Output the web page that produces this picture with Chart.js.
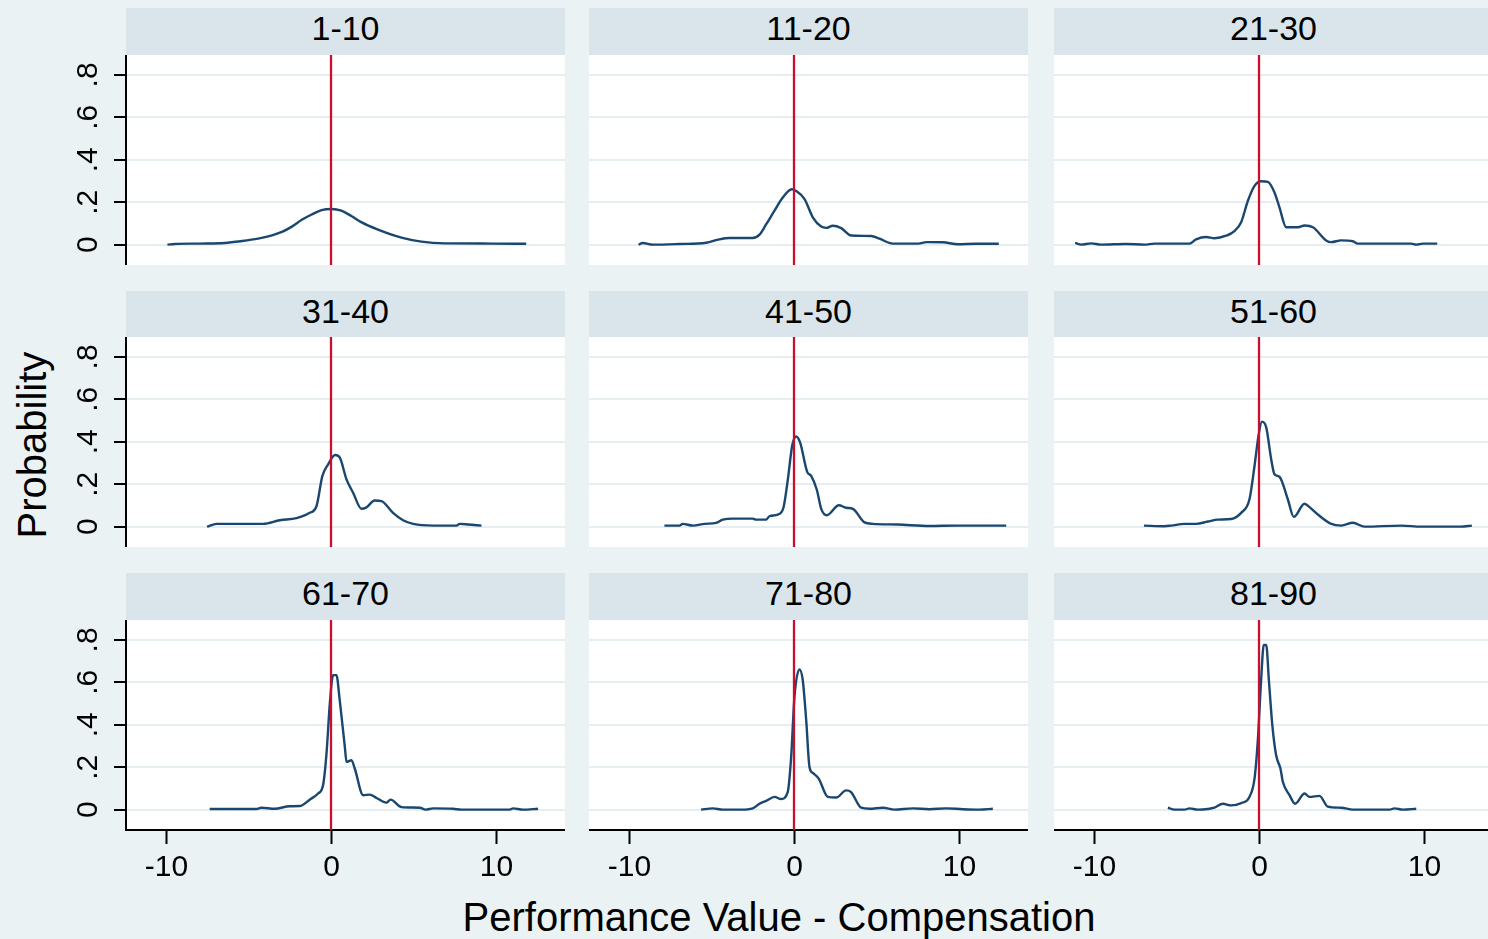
<!DOCTYPE html>
<html><head><meta charset="utf-8">
<script src="https://cdn.jsdelivr.net/npm/chart.js@4.4.1/dist/chart.umd.min.js"></script>
<style>
html,body{margin:0;padding:0;width:1488px;height:939px;overflow:hidden;background:#eaf2f3;font-family:"Liberation Sans",Arial,sans-serif;}
.hdr{position:absolute;background:#d9e5ea;color:#000;font-size:34px;text-align:center;line-height:40px;}
canvas{position:absolute;}
.t{position:absolute;color:#000;font-size:40px;white-space:nowrap;text-align:center;}
</style></head><body>
<div class="t" id="xt" style="left:379px;top:897px;width:800px;line-height:40px;">Performance Value - Compensation</div>
<div class="t" id="yt" style="left:-118px;top:423px;width:300px;height:44px;line-height:44px;transform:rotate(-90deg);transform-origin:150px 22px;">Probability</div>
<script>
// ---- data ----
const groups = ["1-10","11-20","21-30","31-40","41-50","51-60","61-70","71-80","81-90"];

const g1x = [-9.94,-9.5,-8.0,-6.47,-5.5,-4.45,-3.6,-3.0,-2.4,-1.8,-1.2,-0.6,0,0.6,1.2,1.8,2.82,4.24,5.45,6.87,9.7,11.8];
const g1y = [0,0.003,0.005,0.008,0.016,0.028,0.044,0.06,0.085,0.117,0.142,0.163,0.168,0.16,0.135,0.106,0.071,0.033,0.014,0.006,0.005,0.004];

const g2x = [-9.45,-9.19,-8.59,-6.97,-5.35,-4.55,-3.94,-2.53,-2.12,-1.72,-1.21,-0.71,-0.16,0.1,0.61,1.11,1.62,1.92,2.32,2.83,3.44,4.65,5.15,5.96,7.5,8.0,8.99,9.9,11.01,12.38];
const g2y = [0,0.008,0,0.003,0.009,0.025,0.031,0.031,0.047,0.095,0.16,0.222,0.261,0.253,0.215,0.129,0.085,0.079,0.089,0.078,0.043,0.041,0.028,0.005,0.005,0.012,0.011,0.002,0.004,0.004];

const g3x = [-11.17,-10.8,-10.2,-9.6,-8.08,-6.97,-6.36,-4.24,-3.84,-3.23,-2.73,-2.02,-1.52,-1.11,-0.7,-0.3,0.1,0.51,0.91,1.21,1.62,2.33,2.73,3.24,4.04,4.35,4.95,5.66,5.96,9.19,9.5,9.9,10.77];
const g3y = [0.008,0,0.006,0,0.003,0,0.005,0.005,0.025,0.036,0.03,0.042,0.064,0.106,0.207,0.277,0.299,0.296,0.246,0.176,0.082,0.082,0.09,0.082,0.02,0.012,0.02,0.016,0.005,0.005,0,0.005,0.005];

const g4x = [-7.54,-6.97,-4.14,-3.13,-2.12,-1.32,-0.91,-0.55,-0.2,0.22,0.5,0.91,1.31,1.82,2.12,2.62,3.03,3.73,4.34,4.95,6.16,7.57,7.77,8.3,9.09];
const g4y = [0,0.013,0.013,0.03,0.04,0.065,0.096,0.239,0.294,0.338,0.326,0.223,0.16,0.084,0.091,0.123,0.12,0.065,0.03,0.013,0.005,0.005,0.013,0.01,0.005];

const g5x = [-7.88,-6.97,-6.77,-6.16,-5.45,-4.75,-4.34,-3.74,-2.53,-2.33,-1.72,-1.52,-1.01,-0.67,-0.4,-0.14,0.1,0.34,0.77,1.01,1.35,1.62,1.96,2.69,3.13,3.54,4.24,4.75,6.26,8.18,9.8,12.83];
const g5y = [0.005,0.005,0.013,0.005,0.013,0.018,0.033,0.038,0.038,0.033,0.033,0.049,0.057,0.089,0.223,0.381,0.425,0.397,0.258,0.239,0.175,0.084,0.054,0.101,0.089,0.084,0.02,0.013,0.01,0.003,0.005,0.005];

const g6x = [-7.0,-5.76,-5.35,-4.55,-3.84,-3.13,-2.52,-1.72,-1.11,-0.61,-0.3,-0.06,0.15,0.41,0.71,0.91,1.21,1.72,2.08,2.73,3.03,3.54,4.35,4.95,5.66,6.36,8.59,9.8,12.2,12.87];
const g6y = [0.005,0.002,0.005,0.013,0.013,0.024,0.033,0.036,0.065,0.128,0.286,0.428,0.495,0.468,0.318,0.247,0.235,0.128,0.046,0.108,0.092,0.057,0.013,0.005,0.018,0,0.005,0,0,0.005];

const g7x = [-7.38,-4.55,-4.24,-3.44,-2.53,-1.92,-1.32,-0.81,-0.51,-0.3,-0.1,0.1,0.3,0.5,0.81,0.91,1.21,1.41,1.92,2.32,2.73,3.33,3.58,4.24,5.35,5.7,6.16,7.37,7.88,10.8,11.0,11.6,12.52];
const g7y = [0.003,0.003,0.009,0.004,0.016,0.017,0.047,0.076,0.115,0.265,0.5,0.634,0.634,0.516,0.296,0.225,0.233,0.194,0.068,0.071,0.055,0.033,0.047,0.012,0.009,0,0.006,0.004,0,0,0.006,0,0.004];

const g8x = [-5.66,-4.95,-4.34,-3.23,-2.53,-2.12,-1.72,-1.21,-0.81,-0.41,-0.2,0,0.3,0.5,0.71,0.91,1.11,1.47,2.02,2.53,3.13,3.43,4.04,4.55,5.35,6.06,7.17,8.18,9.19,10.2,11.21,12.02];
const g8y = [0,0.006,0,0,0.006,0.028,0.041,0.06,0.05,0.083,0.249,0.532,0.661,0.611,0.422,0.201,0.173,0.146,0.06,0.057,0.091,0.083,0.009,0.004,0.009,0,0.006,0.002,0.006,0.002,0,0.004];

const g9x = [-5.55,-5.15,-4.55,-4.24,-3.74,-3.13,-2.73,-2.22,-1.72,-1.11,-0.61,-0.3,-0.1,0.1,0.26,0.41,0.57,0.77,1.01,1.27,1.42,1.82,2.16,2.73,3.03,3.64,4.14,4.95,5.66,7.88,8.18,8.69,9.5];
const g9y = [0.009,0,0,0.006,0,0.003,0.009,0.028,0.02,0.031,0.06,0.146,0.327,0.611,0.776,0.776,0.611,0.406,0.256,0.194,0.13,0.068,0.028,0.076,0.06,0.065,0.014,0.009,0,0,0.006,0,0.004];

const yTicks = [0, 0.2, 0.4, 0.6, 0.8];
const yTickLabels = ["0", ".2", ".4", ".6", ".8"];
const xTicks = [-10, 0, 10];
const xTickLabels = ["-10", "0", "10"];
const refX = 0;
const xRange = [-12.45, 14.15];
const yRange = [-0.096, 0.894];

// ---- layout ----
const colLeft = [126, 589, 1054], colW = [439, 439, 439];
const rowTop = [55, 337, 620], hdrTop = [8, 291, 573], plotH = 210;
const FONT = '"Liberation Sans", Arial, sans-serif';
const series = [[g1x,g1y],[g2x,g2y],[g3x,g3y],[g4x,g4y],[g5x,g5y],[g6x,g6y],[g7x,g7y],[g8x,g8y],[g9x,g9y]];

const bgPlugin = {id:'bg', beforeDraw(ch){const a=ch.chartArea,ctx=ch.ctx;ctx.save();ctx.fillStyle='#ffffff';ctx.fillRect(a.left,a.top,a.right-a.left,a.bottom-a.top);ctx.restore();}};
const refPlugin = {id:'ref', afterDatasetsDraw(ch){const a=ch.chartArea,ctx=ch.ctx;const px=Math.round(ch.scales.x.getPixelForValue(refX));ctx.save();ctx.strokeStyle='#c8102e';ctx.lineWidth=2.3;ctx.beginPath();ctx.moveTo(px,a.top);ctx.lineTo(px,a.bottom);ctx.stroke();ctx.restore();}};

for (let i = 0; i < 9; i++) {
  const r = Math.floor(i/3), c = i % 3;
  const lx = c === 0 ? 70 : 0, bx = r === 2 ? 62 : 0;
  const hd = document.createElement('div');
  hd.className = 'hdr';
  hd.style.left = colLeft[c] + 'px'; hd.style.top = hdrTop[r] + 'px';
  hd.style.width = colW[c] + 'px'; hd.style.height = (rowTop[r] - hdrTop[r]) + 'px';
  hd.textContent = groups[i];
  document.body.appendChild(hd);

  const cv = document.createElement('canvas');
  const W = colW[c] + lx, H = plotH + bx;
  cv.width = W; cv.height = H;
  cv.style.left = (colLeft[c] - lx) + 'px'; cv.style.top = rowTop[r] + 'px';
  cv.style.width = W + 'px'; cv.style.height = H + 'px';
  document.body.appendChild(cv);

  const xs = series[i][0], ys = series[i][1];
  new Chart(cv, {
    type: 'line',
    data: { datasets: [{ data: xs.map((x,k)=>({x:x, y:ys[k]})), borderColor:'#1a476f', borderWidth:2.4, pointRadius:0, cubicInterpolationMode:'monotone', fill:false }] },
    options: {
      responsive:false, animation:false, devicePixelRatio:1, events:[],
      layout:{padding:0},
      plugins:{legend:{display:false}, tooltip:{enabled:false}},
      scales:{
        x:{ type:'linear', min:xRange[0], max:xRange[1],
            afterBuildTicks:s=>{s.ticks = xTicks.map(v=>({value:v}));},
            afterFit:s=>{s.height = bx; s.paddingLeft = 0; s.paddingRight = 0;},
            grid:{display:r===2, drawOnChartArea:false, drawTicks:true, tickLength:14, tickColor:'#000', tickWidth:2},
            border:{display:r===2, color:'#000', width:2},
            ticks:{display:r===2, padding:6, color:'#000', font:{family:FONT, size:30}, minRotation:0, maxRotation:0, autoSkip:false,
                   callback:(v,idx)=>xTickLabels[idx]} },
        y:{ type:'linear', min:yRange[0], max:yRange[1],
            afterBuildTicks:s=>{s.ticks = yTicks.map(v=>({value:v}));},
            afterFit:s=>{s.width = lx; s.paddingTop = 0; s.paddingBottom = 0;},
            grid:{color:'#e6eef1', lineWidth:2, drawTicks:c===0, tickLength:12, tickColor:'#000', tickWidth:2},
            border:{display:c===0, color:'#000', width:2},
            ticks:{display:c===0, padding:13, crossAlign:'center', minRotation:90, maxRotation:90, color:'#000', font:{family:FONT, size:30}, autoSkip:false,
                   callback:(v,idx)=>yTickLabels[idx]} }
      }
    },
    plugins:[bgPlugin, refPlugin]
  });
}
</script>
</body></html>
